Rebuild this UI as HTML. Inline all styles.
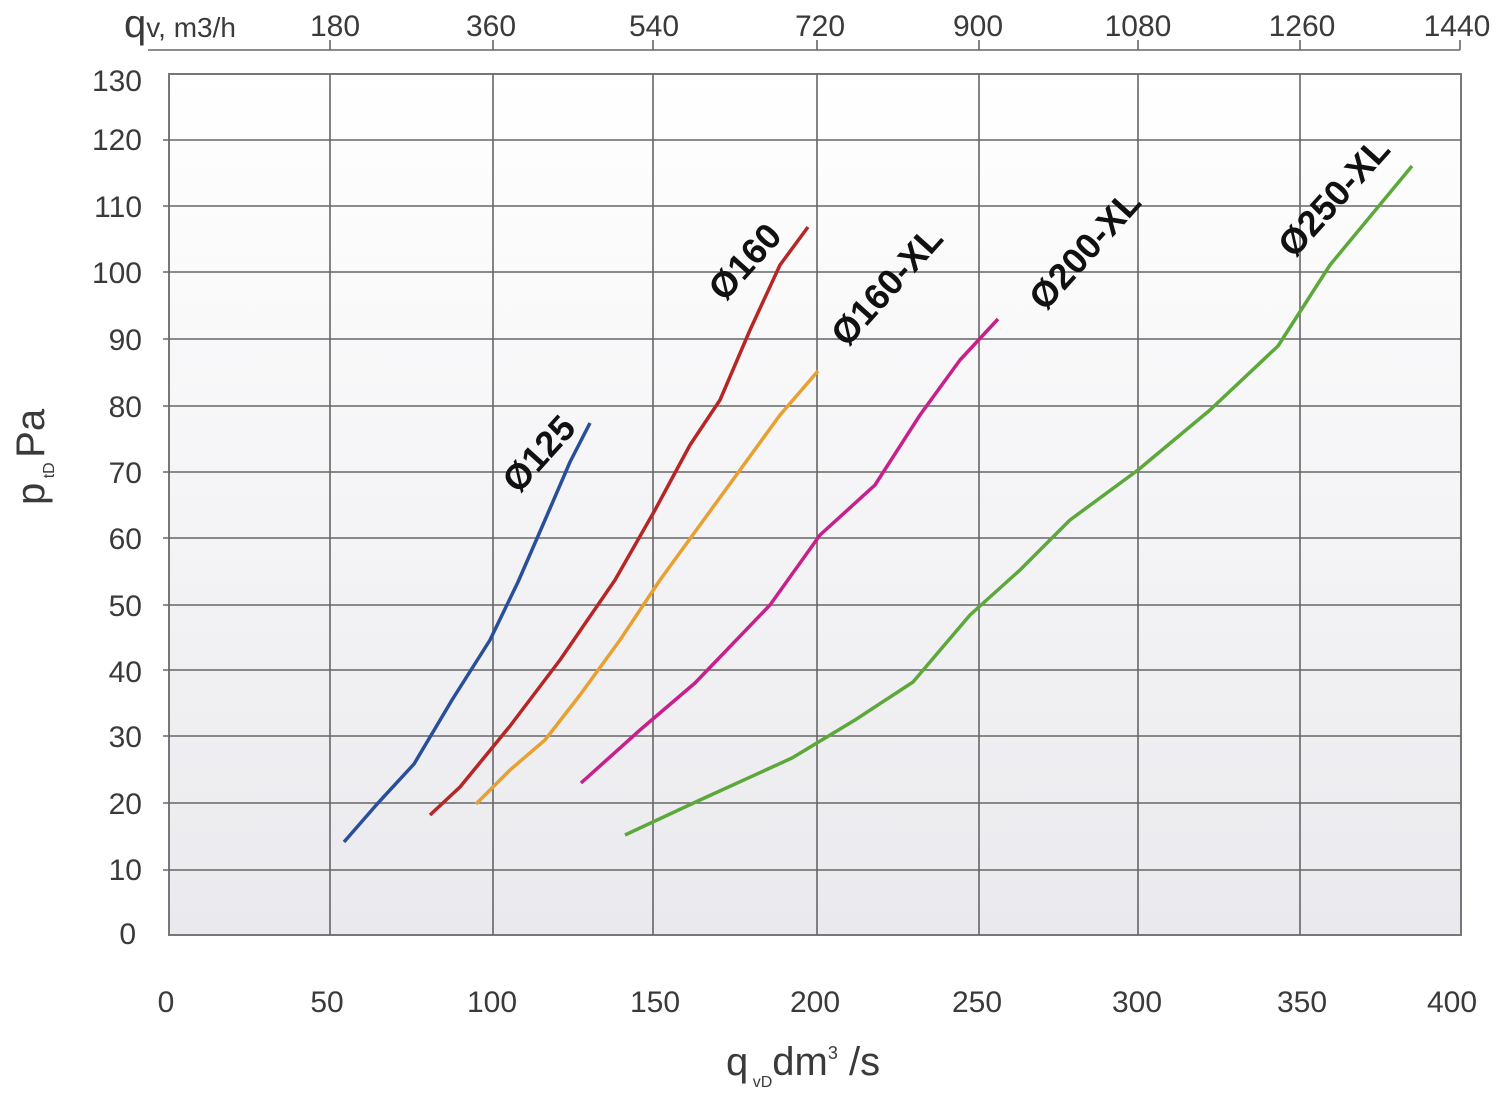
<!DOCTYPE html>
<html><head><meta charset="utf-8"><style>body{margin:0;background:#fff}svg{display:block}</style></head>
<body>
<svg width="1500" height="1099" viewBox="0 0 1500 1099" xmlns="http://www.w3.org/2000/svg" font-family="Liberation Sans, sans-serif">
<defs><linearGradient id="bg" x1="0" y1="0" x2="0" y2="1"><stop offset="0" stop-color="#ffffff"/><stop offset="1" stop-color="#eaeaee"/></linearGradient></defs>
<rect x="169" y="74" width="1292" height="861" fill="url(#bg)" stroke="#777" stroke-width="2"/>
<g stroke="#666" stroke-width="1.6">
<line x1="163" y1="870" x2="1461" y2="870"/><line x1="163" y1="803" x2="1461" y2="803"/><line x1="163" y1="736" x2="1461" y2="736"/><line x1="163" y1="670" x2="1461" y2="670"/><line x1="163" y1="605" x2="1461" y2="605"/><line x1="163" y1="538" x2="1461" y2="538"/><line x1="163" y1="472" x2="1461" y2="472"/><line x1="163" y1="406" x2="1461" y2="406"/><line x1="163" y1="339" x2="1461" y2="339"/><line x1="163" y1="272" x2="1461" y2="272"/><line x1="163" y1="206" x2="1461" y2="206"/><line x1="163" y1="140" x2="1461" y2="140"/>
<line x1="330" y1="74" x2="330" y2="935"/><line x1="493" y1="74" x2="493" y2="935"/><line x1="653" y1="74" x2="653" y2="935"/><line x1="817" y1="74" x2="817" y2="935"/><line x1="979" y1="74" x2="979" y2="935"/><line x1="1138" y1="74" x2="1138" y2="935"/><line x1="1300" y1="74" x2="1300" y2="935"/>
<line x1="148" y1="50" x2="1460" y2="50"/>
<line x1="330" y1="40" x2="330" y2="50"/><line x1="493" y1="40" x2="493" y2="50"/><line x1="653" y1="40" x2="653" y2="50"/><line x1="817" y1="40" x2="817" y2="50"/><line x1="979" y1="40" x2="979" y2="50"/><line x1="1138" y1="40" x2="1138" y2="50"/><line x1="1300" y1="40" x2="1300" y2="50"/><line x1="1460" y1="40" x2="1460" y2="50"/>
</g>
<g fill="#3a3a3a" font-size="30" text-anchor="end">
<text x="142" y="91">130</text><text x="142" y="150">120</text><text x="142" y="217">110</text><text x="142" y="283">100</text><text x="142" y="350">90</text><text x="142" y="417">80</text><text x="142" y="483">70</text><text x="142" y="549">60</text><text x="142" y="616">50</text><text x="142" y="682">40</text><text x="142" y="747">30</text><text x="142" y="814">20</text><text x="142" y="880">10</text><text x="136" y="944">0</text>
</g>
<g fill="#3a3a3a" font-size="30" text-anchor="middle">
<text x="166" y="1012">0</text><text x="327" y="1012">50</text><text x="492" y="1012">100</text><text x="655" y="1012">150</text><text x="815" y="1012">200</text><text x="977" y="1012">250</text><text x="1137" y="1012">300</text><text x="1302" y="1012">350</text><text x="1452" y="1012">400</text>
<text x="335" y="36">180</text><text x="491" y="36">360</text><text x="654" y="36">540</text><text x="820" y="36">720</text><text x="978" y="36">900</text><text x="1138" y="36">1080</text><text x="1302" y="36">1260</text><text x="1457" y="36">1440</text>
</g>
<text x="124" y="37" fill="#3a3a3a" font-size="40">q<tspan font-size="28">v, m3/h</tspan></text>
<text x="726" y="1075" fill="#3a3a3a" font-size="40">q<tspan font-size="16" dy="12"> vD</tspan><tspan dy="-12">dm</tspan><tspan font-size="18" dy="-16">3</tspan><tspan dy="16"> /s</tspan></text>
<text transform="translate(44,505) rotate(-90)" fill="#3a3a3a" font-size="40">p<tspan font-size="16" dy="10"> tD </tspan><tspan dy="-10">Pa</tspan></text>
<g fill="none" stroke-width="3.5" stroke-linejoin="round">
<polyline stroke="#2a4f9a" points="344,842 378,803 414,764 452,700 490,640 518,582 545,520 570,462 590,423"/>
<polyline stroke="#b82525" points="430,815 460,787 510,726 560,660 615,580 655,510 690,445 720,400 750,330 780,265 808,227"/>
<polyline stroke="#e8a030" points="476,804 510,770 545,740 580,695 620,640 660,580 700,525 740,470 780,415 818,371"/>
<polyline stroke="#c8208a" points="581,783 640,730 695,683 770,605 820,535 875,485 920,415 960,360 998,319"/>
<polyline stroke="#5ca83a" points="625,835 700,800 792,758 855,720 913,682 970,615 1020,570 1070,520 1138,470 1210,410 1278,346 1330,265 1412,166"/>
</g>
<g fill="#111" font-size="36" font-weight="bold" text-anchor="middle">
<text transform="translate(548,462) rotate(-48)">Ø125</text>
<text transform="translate(754,270) rotate(-48)">Ø160</text>
<text transform="translate(896,294) rotate(-48)">Ø160-XL</text>
<text transform="translate(1094,258) rotate(-48)">Ø200-XL</text>
<text transform="translate(1343,205) rotate(-48)">Ø250-XL</text>
</g>
</svg>
</body></html>
